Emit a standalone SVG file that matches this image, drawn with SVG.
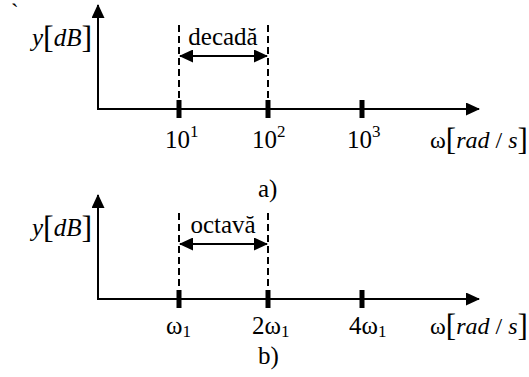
<svg xmlns="http://www.w3.org/2000/svg" width="529" height="377" viewBox="0 0 529 377">
<style>
.ax{stroke:#000;stroke-width:2;fill:none}
.tk{stroke:#000;stroke-width:5}
.ds{stroke:#000;stroke-width:2;stroke-dasharray:7,4;fill:none}
</style>
<defs>
<marker id="ah" viewBox="0 0 14 14" refX="13" refY="7" markerWidth="14" markerHeight="13" markerUnits="userSpaceOnUse" orient="auto-start-reverse" preserveAspectRatio="none">
<path d="M0,0 L14,7 L0,14 Z" fill="#000"/>
</marker>
</defs>
<text x="11" y="20" font-family="Liberation Serif" font-size="23">`</text>
<g id="connectors">
<line class="ax" x1="98" y1="110" x2="98" y2="5" marker-end="url(#ah)"/>
<line class="ax" x1="97" y1="109" x2="479" y2="109" marker-end="url(#ah)"/>
<line class="ds" x1="179" y1="25" x2="179" y2="101"/>
<line class="ds" x1="268" y1="25" x2="268" y2="101"/>
<line class="ax" x1="180" y1="56" x2="267" y2="56" marker-start="url(#ah)" marker-end="url(#ah)"/>
<line class="ax" x1="98" y1="300" x2="98" y2="195" marker-end="url(#ah)"/>
<line class="ax" x1="97" y1="299" x2="479" y2="299" marker-end="url(#ah)"/>
<line class="ds" x1="179" y1="213" x2="179" y2="291"/>
<line class="ds" x1="268" y1="213" x2="268" y2="291"/>
<line class="ax" x1="180" y1="244" x2="267" y2="244" marker-start="url(#ah)" marker-end="url(#ah)"/>
</g>
<g id="ticks-a">
<line class="tk" x1="179" y1="100" x2="179" y2="118"/>
<line class="tk" x1="268" y1="100" x2="268" y2="118"/>
<line class="tk" x1="362" y1="100" x2="362" y2="118"/>
</g>
<g id="ticks-b">
<line class="tk" x1="179" y1="290" x2="179" y2="308"/>
<line class="tk" x1="268" y1="290" x2="268" y2="308"/>
<line class="tk" x1="362" y1="290" x2="362" y2="308"/>
</g>
<g id="ylabel-a"><text x="32" y="46" font-family="Liberation Serif" font-size="25"><tspan font-style="italic">y</tspan><tspan font-size="32" dy="2">[</tspan><tspan font-style="italic" dy="-2">dB</tspan><tspan font-size="32" dy="2">]</tspan></text></g>
<g id="ylabel-b"><text x="32" y="236" font-family="Liberation Serif" font-size="25"><tspan font-style="italic">y</tspan><tspan font-size="32" dy="2">[</tspan><tspan font-style="italic" dy="-2">dB</tspan><tspan font-size="32" dy="2">]</tspan></text></g>
<g id="decada"><text x="223" y="45" text-anchor="middle" font-family="Liberation Serif" font-size="25">decadă</text></g>
<g id="octava"><text x="223" y="233" text-anchor="middle" font-family="Liberation Serif" font-size="25">octavă</text></g>
<g id="xlabels-a">
<text x="165" y="148" font-family="Liberation Serif" font-size="25">10<tspan font-size="17" dy="-11">1</tspan></text>
<text x="252" y="148" font-family="Liberation Serif" font-size="25">10<tspan font-size="17" dy="-11">2</tspan></text>
<text x="347" y="148" font-family="Liberation Serif" font-size="25">10<tspan font-size="17" dy="-11">3</tspan></text>
<text x="430" y="148" font-family="Liberation Serif" font-size="24">ω<tspan font-size="31" dy="2">[</tspan><tspan font-style="italic" dy="-2">rad</tspan> / <tspan font-style="italic">s</tspan><tspan font-size="31" dy="2">]</tspan></text>
</g>
<g id="xlabels-b">
<text x="166" y="334" font-family="Liberation Serif" font-size="25">ω<tspan font-size="17" dy="3">1</tspan></text>
<text x="252" y="334" font-family="Liberation Serif" font-size="25">2ω<tspan font-size="17" dy="3">1</tspan></text>
<text x="349" y="334" font-family="Liberation Serif" font-size="25">4ω<tspan font-size="17" dy="3">1</tspan></text>
<text x="430" y="334" font-family="Liberation Serif" font-size="24">ω<tspan font-size="31" dy="2">[</tspan><tspan font-style="italic" dy="-2">rad</tspan> / <tspan font-style="italic">s</tspan><tspan font-size="31" dy="2">]</tspan></text>
</g>
<g id="caption-a"><text x="258" y="197" font-family="Liberation Serif" font-size="25">a)</text></g>
<g id="caption-b"><text x="258" y="364" font-family="Liberation Serif" font-size="25">b)</text></g>
</svg>
